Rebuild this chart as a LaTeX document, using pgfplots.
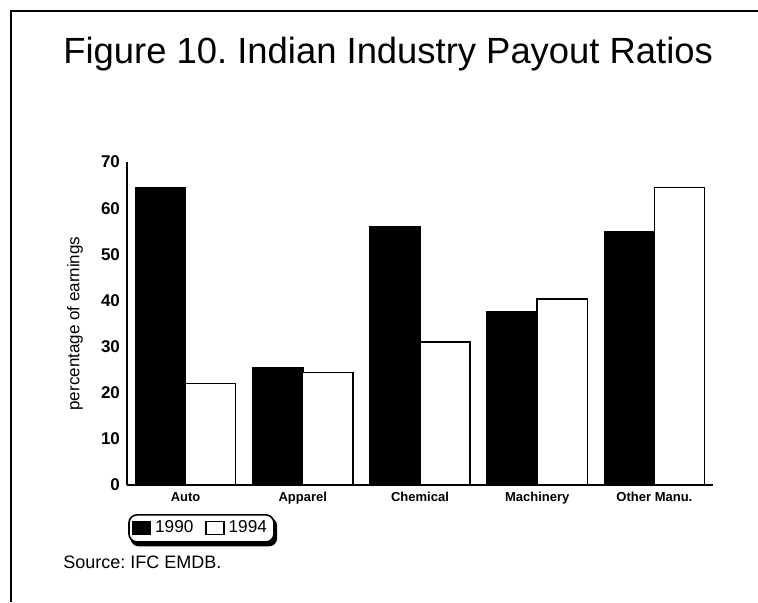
\documentclass[border=0pt]{standalone}
\usepackage{fontspec}
\setmainfont{Liberation Sans}
\usepackage{pgfplots}
\pgfplotsset{compat=1.18}
\pgfdeclarelayer{background}
\pgfsetlayers{background,main}
\pgfplotsset{mylegimg/.style={legend image code/.code={\draw[##1, sharp corners, line width=0.6pt] (0pt,-3pt) rectangle (9pt,3.5pt);}}}
\frenchspacing
\begin{document}
\begin{tikzpicture}
\useasboundingbox (0,0) rectangle (379pt,301pt);
\draw[line width=1.3pt] (5.5pt,0) -- (5.5pt,295.5pt) -- (379pt,295.5pt);
\node[anchor=base west, inner sep=0, font=\fontsize{18.2}{20}\selectfont] at (31.5pt,269.5pt) {Figure 10. Indian Industry Payout Ratios};
\begin{axis}[
  at={(63.5pt,58.5pt)}, anchor=south west,
  scale only axis, width=293pt, height=161.5pt,
  xmin=-0.5, xmax=4.5, ymin=0, ymax=70,
  axis x line*=bottom, axis y line*=left,
  axis line style={-, line width=0.9pt},
  ytick={0,10,...,70},
  xtick={0,1,2,3,4},
  xticklabels={Auto, Apparel, Chemical, Machinery, Other Manu.},
  major tick length=0pt,
  /pgf/number format/assume math mode=true,
  yticklabel style={font=\fontsize{8.5}{10}\selectfont\bfseries},
  xticklabel style={font=\fontsize{6.5}{8}\selectfont\bfseries},
  ylabel={percentage of earnings},
  ylabel style={at={(axis description cs:-0.0887,0.5)}, anchor=center, font=\fontsize{8.5}{10}\selectfont},
  legend columns=2,
  legend style={name=leg, at={(axis description cs:0.002,-0.09)}, anchor=north west,
    draw=black, fill=white, line width=0.8pt, rounded corners=4pt,
    font=\fontsize{8.6}{10}\selectfont, inner xsep=1.5pt, inner ysep=1pt,
    /tikz/every even column/.append style={column sep=4pt}},
]
\addplot[ybar, bar width=0.427, bar shift=-0.2133, fill=black, draw=black, line width=0.7pt, mylegimg]
  coordinates {(0,64.5) (1,25.5) (2,56) (3,37.5) (4,55)};
\addplot[ybar, bar width=0.427, bar shift=0.2133, fill=white, draw=black, line width=0.7pt, mylegimg]
  coordinates {(0,22) (1,24.4) (2,31) (3,40.3) (4,64.5)};
\legend{1990,1994}
\end{axis}
\begin{pgfonlayer}{background}
\fill[rounded corners=4pt] ([xshift=1.2pt,yshift=-1.8pt]leg.south west) rectangle ([xshift=1.2pt,yshift=-1.8pt]leg.north east);
\end{pgfonlayer}
\node[anchor=base west, inner sep=0, font=\fontsize{9}{11}\selectfont] at (31.5pt,17pt) {Source: IFC EMDB.};
\end{tikzpicture}
\end{document}
